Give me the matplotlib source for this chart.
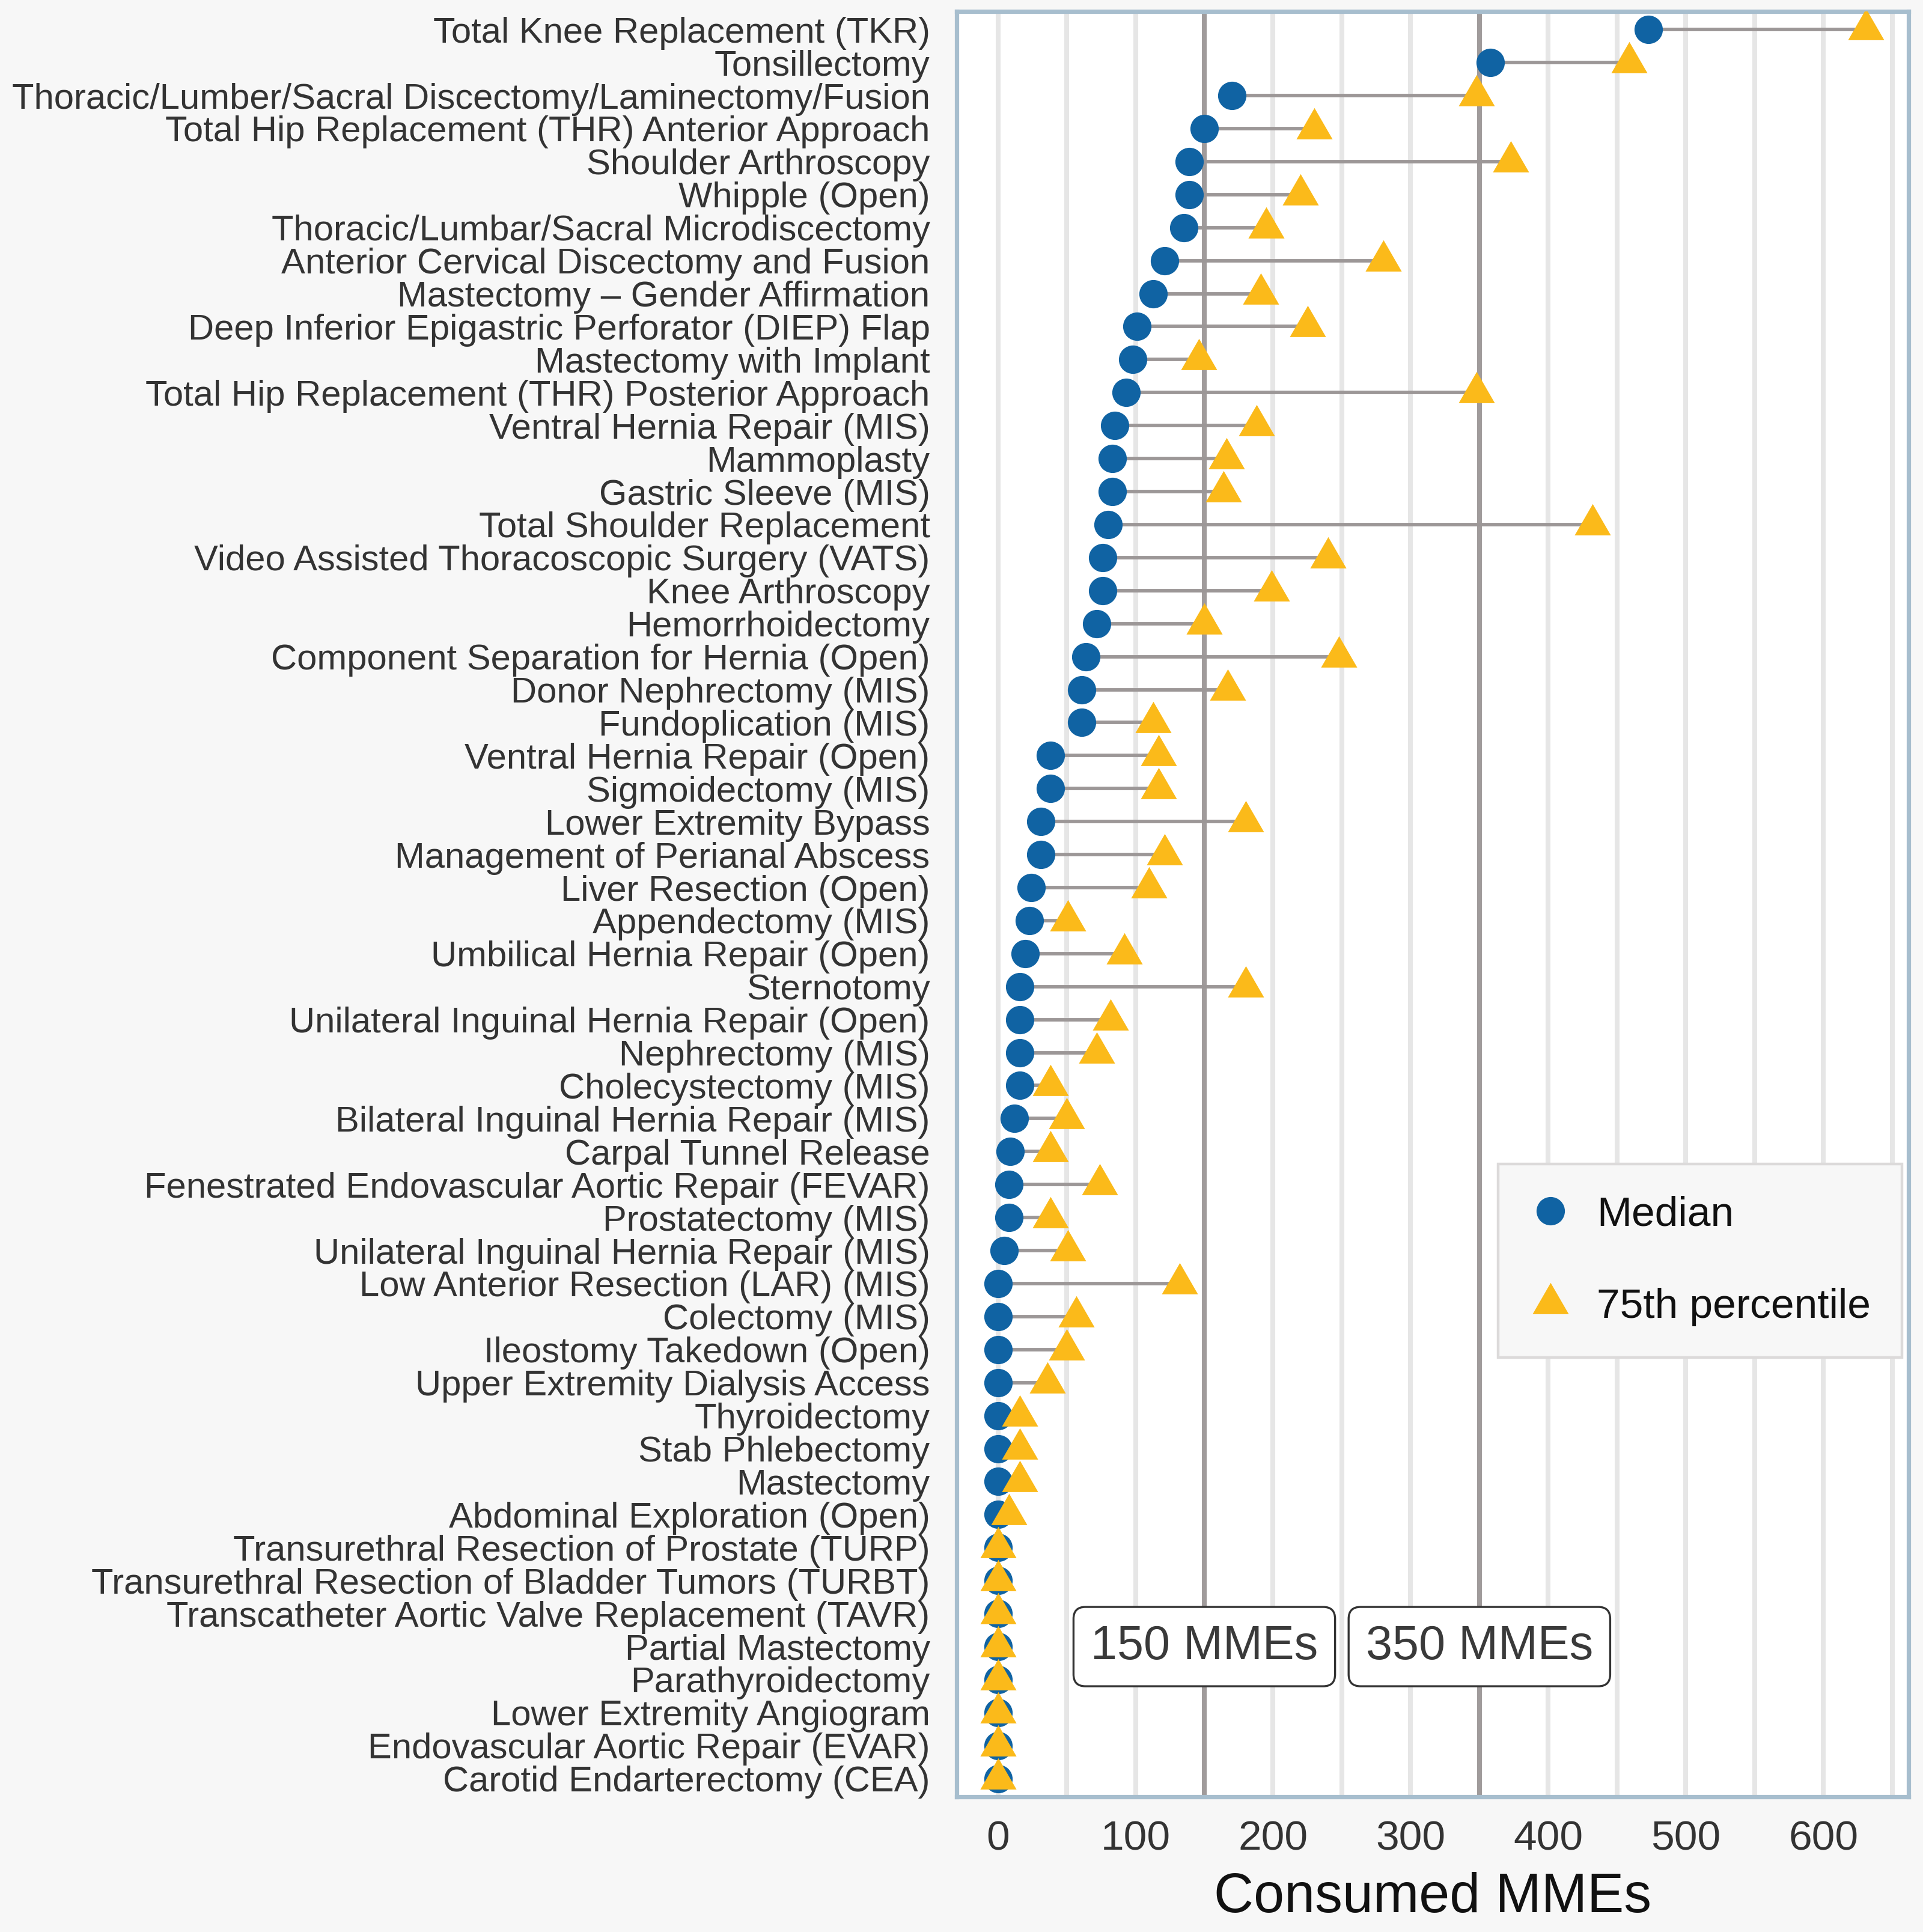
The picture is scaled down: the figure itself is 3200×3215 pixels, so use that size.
import numpy as np
import matplotlib
matplotlib.use("Agg")
import matplotlib.pyplot as plt
from matplotlib.lines import Line2D

plt.rcParams['font.family'] = ['Liberation Sans', 'DejaVu Sans']

procedures = [
    "Total Knee Replacement (TKR)",
    "Tonsillectomy",
    "Thoracic/Lumber/Sacral Discectomy/Laminectomy/Fusion",
    "Total Hip Replacement (THR) Anterior Approach",
    "Shoulder Arthroscopy",
    "Whipple (Open)",
    "Thoracic/Lumbar/Sacral Microdiscectomy",
    "Anterior Cervical Discectomy and Fusion",
    "Mastectomy \u2013 Gender Affirmation",
    "Deep Inferior Epigastric Perforator (DIEP) Flap",
    "Mastectomy with Implant",
    "Total Hip Replacement (THR) Posterior Approach",
    "Ventral Hernia Repair (MIS)",
    "Mammoplasty",
    "Gastric Sleeve (MIS)",
    "Total Shoulder Replacement",
    "Video Assisted Thoracoscopic Surgery (VATS)",
    "Knee Arthroscopy",
    "Hemorrhoidectomy",
    "Component Separation for Hernia (Open)",
    "Donor Nephrectomy (MIS)",
    "Fundoplication (MIS)",
    "Ventral Hernia Repair (Open)",
    "Sigmoidectomy (MIS)",
    "Lower Extremity Bypass",
    "Management of Perianal Abscess",
    "Liver Resection (Open)",
    "Appendectomy (MIS)",
    "Umbilical Hernia Repair (Open)",
    "Sternotomy",
    "Unilateral Inguinal Hernia Repair (Open)",
    "Nephrectomy (MIS)",
    "Cholecystectomy (MIS)",
    "Bilateral Inguinal Hernia Repair (MIS)",
    "Carpal Tunnel Release",
    "Fenestrated Endovascular Aortic Repair (FEVAR)",
    "Prostatectomy (MIS)",
    "Unilateral Inguinal Hernia Repair (MIS)",
    "Low Anterior Resection (LAR) (MIS)",
    "Colectomy (MIS)",
    "Ileostomy Takedown (Open)",
    "Upper Extremity Dialysis Access",
    "Thyroidectomy",
    "Stab Phlebectomy",
    "Mastectomy",
    "Abdominal Exploration (Open)",
    "Transurethral Resection of Prostate (TURP)",
    "Transurethral Resection of Bladder Tumors (TURBT)",
    "Transcatheter Aortic Valve Replacement (TAVR)",
    "Partial Mastectomy",
    "Parathyroidectomy",
    "Lower Extremity Angiogram",
    "Endovascular Aortic Repair (EVAR)",
    "Carotid Endarterectomy (CEA)",
]

median_mme = [
    473, 358, 170, 150, 139, 139, 135, 121, 113, 101,
    98, 93, 85, 83, 83, 80, 76, 76, 72, 64,
    61, 61, 38, 38, 31, 31, 24, 23, 20, 16,
    16, 16, 16, 12, 9, 8, 8, 4.5, 0, 0,
    0, 0, 0, 0, 0, 0, 0, 0, 0, 0,
    0, 0, 0, 0,
]

p75_mme = [
    631, 459, 348, 230, 373, 220, 195, 280, 191, 225,
    146, 348, 188, 166, 164, 432, 240, 199, 150, 248,
    167, 113, 117, 117, 180, 121, 110, 51, 92, 180,
    82, 72, 38, 50, 38, 74, 38, 51, 132, 57,
    50, 36, 16, 16, 16, 8, 0, 0, 0, 0,
    0, 0, 0, 0,
]

ref_lines = [150, 350]
ref_labels = ["150 MMEs", "350 MMEs"]
label_row = "Partial Mastectomy"

blue = "#1063A3"
gold = "#FBBA1A"
seg_grey = "#9C9797"
text_col = "#333333"

# triangle with centroid at the data point (ggplot shape 17)
tri = [(-1, -0.5774), (1, -0.5774), (0, 1.1547)]

fig = plt.figure(figsize=(16, 16.075), dpi=200, facecolor="#F7F7F7")
ax = fig.add_axes([0.4975, 0.0700, 0.4950, 0.9241])
ax.set_facecolor("white")

y = np.arange(len(procedures))

# gridlines every 50
for gx in np.arange(0, 701, 50):
    ax.axvline(gx, color="#E6E6E6", lw=2.9, zorder=0)
for rx in ref_lines:
    ax.axvline(rx, color="#A09B9B", lw=2.9, zorder=1)

ax.hlines(y, median_mme, p75_mme, color=seg_grey, lw=2.1, zorder=2)
ax.plot(median_mme, y, "o", color=blue, ms=17, mec="none", zorder=3)
ax.plot(p75_mme, y, ls="none", marker=tri, color=gold, ms=25, mec="none", zorder=4)

yl = procedures.index(label_row)
for rx, txt in zip(ref_lines, ref_labels):
    ax.text(rx, yl, txt, ha="center", va="center", fontsize=28.5, color="#3A3A3A",
            zorder=6,
            bbox=dict(boxstyle="round,pad=0.36,rounding_size=0.25", fc="white",
                      ec="#333333", lw=1.2))

ax.set_xlim(-30, 662)
ax.set_ylim(53.55, -0.55)
ax.set_yticks(y)
ax.set_yticklabels(procedures)
ax.set_xticks([0, 100, 200, 300, 400, 500, 600])
ax.tick_params(axis="both", length=0, labelcolor=text_col)
ax.tick_params(axis="y", pad=16, labelsize=21.5)
ax.tick_params(axis="x", pad=14, labelsize=25)
ax.set_xlabel("Consumed MMEs", fontsize=33, color="#111111", labelpad=8)

for sp in ax.spines.values():
    sp.set_color("#A7BECE")
    sp.set_linewidth(2.6)

handles = [
    Line2D([], [], ls="none", marker="o", color=blue, ms=17, mec="none"),
    Line2D([], [], ls="none", marker=tri, color=gold, ms=25, mec="none"),
]
leg = fig.legend(handles, ["Median", "75th percentile"], loc="upper left",
                 bbox_to_anchor=(0.779, 0.3975), fontsize=25, frameon=True,
                 fancybox=False, facecolor="#F7F7F7", edgecolor="#DCDADA",
                 framealpha=1, labelspacing=1.3, borderpad=0.75,
                 handlelength=1.0, handletextpad=0.62, borderaxespad=0)
leg.get_frame().set_linewidth(1.6)
for t in leg.get_texts():
    t.set_color("#111111")

fig.savefig("out.png", dpi=200, facecolor=fig.get_facecolor())
